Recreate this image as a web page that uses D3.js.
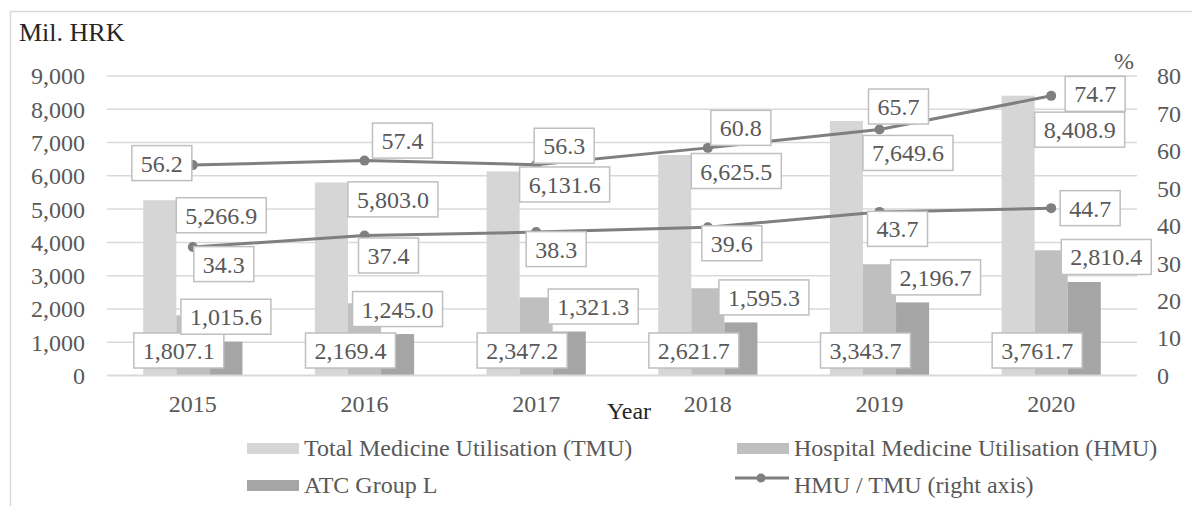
<!DOCTYPE html>
<html>
<head>
<meta charset="utf-8">
<script src="https://cdn.jsdelivr.net/npm/d3@7"></script>
<style>
  html, body { margin: 0; padding: 0; background: #fff; }
</style>
</head>
<body>
<script>
// chart data
const years = ['2015', '2016', '2017', '2018', '2019', '2020'];
const tmu = [5266.9, 5803.0, 6131.6, 6625.5, 7649.6, 8408.9];
const hmu = [1807.1, 2169.4, 2347.2, 2621.7, 3343.7, 3761.7];
const atcL = [1015.6, 1245.0, 1321.3, 1595.3, 2196.7, 2810.4];
const ratioTop = [56.2, 57.4, 56.3, 60.8, 65.7, 74.7];
const ratioLow = [34.3, 37.4, 38.3, 39.6, 43.7, 44.7];
const leftTicks = [0, 1000, 2000, 3000, 4000, 5000, 6000, 7000, 8000, 9000];
const rightTicks = [0, 10, 20, 30, 40, 50, 60, 70, 80];

const font = 'Liberation Serif';

const svg = d3.select('body').append('svg')
    .attr('width', 1192).attr('height', 506)
    .attr('font-family', font);

const grid = '#d9d9d9';
const textCol = '#595959';
const lineCol = '#7f7f7f';
const barCols = { tmu: '#d6d6d6', hmu: '#bfbfbf', atc: '#a5a5a5' };

// outer frame (runs off the picture on right and bottom)
svg.append('rect')
    .attr('x', 10.5).attr('y', 11.5)
    .attr('width', 1300).attr('height', 600)
    .attr('fill', 'none').attr('stroke', grid).attr('stroke-width', 1.5);

const plotL = 107, plotR = 1137, plotT = 76, plotB = 375.5;

const x = d3.scaleBand().domain(years).range([plotL, plotR]);
const yL = d3.scaleLinear().domain([0, 9000]).range([plotB, plotT]);
const yR = d3.scaleLinear().domain([0, 80]).range([plotB, plotT]);

const keys = ['tmu', 'hmu', 'atc'];
const x1 = d3.scaleBand().domain(keys).range([-x.bandwidth() * 0.289, x.bandwidth() * 0.289]);
const cx = (d) => x(d) + x.bandwidth() / 2;

// gridlines
svg.append('g')
    .selectAll('line')
    .data(leftTicks.slice(1))
    .join('line')
    .attr('x1', plotL).attr('x2', plotR)
    .attr('y1', (d) => yL(d)).attr('y2', (d) => yL(d))
    .attr('stroke', grid).attr('stroke-width', 1.5);

// left axis
const axL = svg.append('g')
    .attr('transform', `translate(${plotL - 22},0)`)
    .call(d3.axisLeft(yL).tickValues(leftTicks).tickSize(0).tickPadding(0).tickFormat(d3.format(',')));
axL.attr('font-family', font).attr('font-size', 24);
axL.select('.domain').remove();
axL.selectAll('text').attr('fill', textCol).attr('dy', '0.33em');

// right axis
const axR = svg.append('g')
    .attr('transform', `translate(${plotR + 20},0)`)
    .call(d3.axisRight(yR).tickValues(rightTicks).tickSize(0).tickPadding(0));
axR.attr('font-family', font).attr('font-size', 24);
axR.select('.domain').remove();
axR.selectAll('text').attr('fill', textCol).attr('dy', '0.33em');

// bars
const rows = years.map((yr, i) => ({ yr, i, tmu: tmu[i], hmu: hmu[i], atc: atcL[i] }));
const groups = svg.append('g')
    .selectAll('g')
    .data(rows)
    .join('g')
    .attr('transform', (d) => `translate(${cx(d.yr)},0)`);

groups.selectAll('rect')
    .data((d) => keys.map((k) => ({ k, v: d[k] })))
    .join('rect')
    .attr('x', (d) => x1(d.k))
    .attr('width', x1.bandwidth())
    .attr('y', (d) => yL(d.v))
    .attr('height', (d) => plotB - yL(d.v))
    .attr('fill', (d) => barCols[d.k]);

// category axis line
svg.append('line')
    .attr('x1', plotL).attr('x2', plotR)
    .attr('y1', plotB).attr('y2', plotB)
    .attr('stroke', grid).attr('stroke-width', 2);

// category labels
svg.append('g')
    .selectAll('text')
    .data(years)
    .join('text')
    .attr('x', (d) => cx(d))
    .attr('y', 412)
    .attr('text-anchor', 'middle')
    .attr('font-size', 24)
    .attr('fill', textCol)
    .text((d) => d);

// ratio lines
const line = d3.line().x((d, i) => cx(years[i])).y((d) => yR(d));
[ratioTop, ratioLow].forEach((s) => {
    svg.append('path')
        .attr('d', line(s))
        .attr('fill', 'none')
        .attr('stroke', lineCol)
        .attr('stroke-width', 3);
    svg.append('g')
        .selectAll('circle')
        .data(s)
        .join('circle')
        .attr('cx', (d, i) => cx(years[i]))
        .attr('cy', (d) => yR(d))
        .attr('r', 5)
        .attr('fill', lineCol);
});

// data labels: boxed text, placed around each mark like in the original
const fmt1 = d3.format(',.1f');
const labels = [];
const barW = x1.bandwidth();
const tmuDy = [15, 17, 13, 16, 32, 34];
const atcDx = [0, 0, 24, 23, 23, 22];
const topOff = [[-31, -2], [38, -20], [28, -19], [33, -20], [19, -23], [44, -2]];
const lowOff = [[31, 17], [24, 20], [20, 17], [24, 16], [18, 17], [39, 0]];

years.forEach((yr, i) => {
    const c = cx(yr);
    labels.push({ t: fmt1(hmu[i]), x: c + x1('hmu') + barW / 2 - 14, y: plotB - 25 });
    labels.push({ t: fmt1(atcL[i]), x: c + x1('atc') + barW / 2 + atcDx[i], y: yL(atcL[i]) - 25 });
    labels.push({ t: fmt1(ratioLow[i]), x: c + lowOff[i][0], y: yR(ratioLow[i]) + lowOff[i][1] });
    labels.push({ t: fmt1(tmu[i]), x: c + x1('tmu') + barW, y: yL(tmu[i]) + tmuDy[i], left: true });
    labels.push({ t: fmt1(ratioTop[i]), x: c + topOff[i][0], y: yR(ratioTop[i]) + topOff[i][1] });
});

const lab = svg.append('g')
    .selectAll('g')
    .data(labels)
    .join('g');

lab.append('rect');
lab.append('text')
    .attr('font-size', 24)
    .attr('fill', textCol)
    .attr('text-anchor', 'middle')
    .text((d) => d.t);

lab.each(function (d) {
    const g = d3.select(this);
    const w = g.select('text').node().getComputedTextLength() + 18;
    const h = 35;
    const mx = d.left ? d.x + w / 2 : d.x;
    g.select('rect')
        .attr('x', mx - w / 2).attr('y', d.y - h / 2)
        .attr('width', w).attr('height', h)
        .attr('fill', '#fff').attr('stroke', '#bfbfbf').attr('stroke-width', 1.5);
    g.select('text').attr('x', mx).attr('y', d.y + 8.5);
});

// titles
svg.append('text').attr('x', 19).attr('y', 41).attr('font-size', 26).attr('fill', '#262626').text('Mil. HRK');
svg.append('text').attr('x', 1124).attr('y', 69).attr('text-anchor', 'middle')
    .attr('font-size', 24).attr('fill', textCol).text('%');
svg.append('text').attr('x', 629).attr('y', 419).attr('text-anchor', 'middle')
    .attr('font-size', 24).attr('fill', '#262626').text('Year');

// legend
const legendItems = [
    { name: 'Total Medicine Utilisation (TMU)', type: 'bar', c: barCols.tmu, x: 247, y: 456 },
    { name: 'Hospital Medicine Utilisation (HMU)', type: 'bar', c: barCols.hmu, x: 737, y: 456 },
    { name: 'ATC Group L', type: 'bar', c: barCols.atc, x: 247, y: 493 },
    { name: 'HMU / TMU (right axis)', type: 'line', c: lineCol, x: 737, y: 493 }
];

const leg = svg.append('g')
    .selectAll('g')
    .data(legendItems)
    .join('g')
    .attr('transform', (d) => `translate(${d.x},${d.y})`);

leg.filter((d) => d.type === 'bar')
    .append('rect')
    .attr('x', 0).attr('y', -13).attr('width', 52).attr('height', 11)
    .attr('fill', (d) => d.c);

leg.filter((d) => d.type === 'line')
    .call((g) => {
        g.append('line').attr('x1', -2).attr('x2', 52).attr('y1', -15).attr('y2', -15)
            .attr('stroke', (d) => d.c).attr('stroke-width', 3);
        g.append('circle').attr('cx', 24).attr('cy', -15).attr('r', 4.5).attr('fill', (d) => d.c);
    });

leg.append('text')
    .attr('x', 57)
    .attr('font-size', 24)
    .attr('fill', textCol)
    .text((d) => d.name);
</script>
</body>
</html>
